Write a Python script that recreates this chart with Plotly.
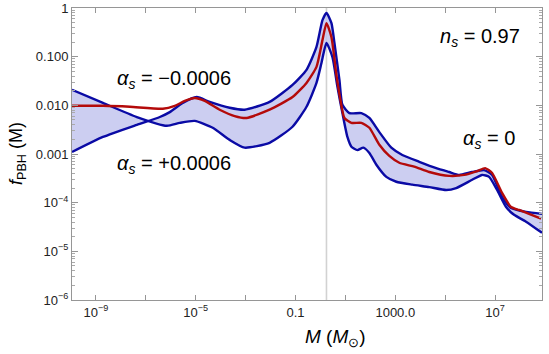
import plotly.graph_objects as go

# ---- data (log10 M [Msun], log10 f_PBH) ----
red_logM = [-9.96, -8.72, -7.64, -6.32, -5.84, -5.44, -5.04, -4.64, -4.04, -3.44, -2.96, -2.04,
            -1.12, -0.56, -0.16, 0.08, 0.24, 0.44, 0.64, 0.80, 0.96, 1.24, 1.64, 1.96, 2.36, 2.76,
            3.16, 3.76, 4.36, 5.16, 5.76, 6.28, 6.60, 6.88, 7.28, 7.64, 7.96, 8.36, 8.84]
red_logf = [-2.01, -2.01, -2.03, -2.07, -2.01, -1.91, -1.85, -1.91, -2.09, -2.22, -2.26, -2.09,
            -1.83, -1.54, -1.21, -0.66, -0.31, -0.60, -1.38, -1.89, -2.26, -2.36, -2.36, -2.46, -2.81, -3.04,
            -3.18, -3.26, -3.37, -3.45, -3.43, -3.35, -3.29, -3.39, -3.80, -4.09, -4.15, -4.23, -4.33]

neg_logM = [-9.96, -8.72, -7.36, -6.44, -6.04, -5.52, -4.96, -4.44, -3.64, -3.04, -2.04, -1.12,
            -0.56, -0.16, 0.08, 0.24, 0.44, 0.56, 0.76, 0.88, 1.16, 1.64, 1.96, 2.36, 2.84, 3.28,
            3.96, 4.64, 5.16, 5.56, 6.08, 6.56, 6.88, 7.28, 7.64, 8.24, 8.88]
neg_logf = [-2.96, -2.65, -2.40, -2.24, -2.14, -1.95, -1.83, -1.93, -2.05, -2.09, -1.93, -1.58,
            -1.27, -0.80, -0.25, -0.10, -0.31, -0.72, -1.48, -1.99, -2.16, -2.16, -2.26, -2.55, -2.87, -3.02,
            -3.16, -3.29, -3.37, -3.43, -3.37, -3.33, -3.43, -3.88, -4.11, -4.19, -4.23]

pos_logM = [-9.96, -8.72, -7.36, -6.16, -5.64, -5.04, -4.32, -3.64, -3.04, -2.04, -1.12, -0.56,
            -0.16, 0.04, 0.24, 0.48, 0.68, 0.88, 1.08, 1.24, 1.48, 1.72, 1.96, 2.24, 2.64, 3.04,
            3.68, 4.36, 5.04, 5.44, 6.08, 6.48, 6.76, 7.08, 7.44, 7.76, 8.24, 8.88]
pos_logf = [-1.68, -1.95, -2.24, -2.42, -2.36, -2.32, -2.46, -2.71, -2.87, -2.77, -2.44, -2.03,
            -1.54, -1.13, -0.72, -1.01, -1.62, -2.16, -2.65, -2.85, -2.92, -2.87, -2.98, -3.22, -3.47, -3.57,
            -3.63, -3.68, -3.74, -3.70, -3.53, -3.43, -3.47, -3.74, -4.09, -4.25, -4.39, -4.62]

vline_logM = 0.24

y_tickvals = [1, 0.1, 0.01, 0.001, 1e-4, 1e-5, 1e-6]
y_ticktext = ["1", "0.100", "0.010", "0.001", "10<sup>−4</sup>", "10<sup>−5</sup>", "10<sup>−6</sup>"]
x_tickvals = [1e-9, 1e-7, 1e-5, 1e-3, 1e-1, 1e1, 1e3, 1e5, 1e7]
x_ticktext = ["10<sup>−9</sup>", "", "10<sup>−5</sup>", "", "0.1", "", "1000.0", "", "10<sup>7</sup>"]

def p10(v):
    return [10 ** a for a in v]

BLUE = "rgb(10,10,165)"
RED = "rgb(180,10,10)"
FILL = "rgba(195,198,238,0.85)"
FONT = "Liberation Sans, Arial, sans-serif"
SMOOTH = 0.55

fig = go.Figure()

# band between the two blue curves
fig.add_trace(go.Scatter(
    x=p10(pos_logM) + p10(neg_logM)[::-1],
    y=p10(pos_logf) + p10(neg_logf)[::-1],
    mode="lines", line=dict(width=0, shape="spline", smoothing=SMOOTH),
    fill="toself", fillcolor=FILL, hoverinfo="skip", showlegend=False))

for xs, ys, col in [(pos_logM, pos_logf, BLUE), (neg_logM, neg_logf, BLUE), (red_logM, red_logf, RED)]:
    fig.add_trace(go.Scatter(x=p10(xs), y=p10(ys), mode="lines",
                             line=dict(color=col, width=2.4, shape="spline", smoothing=SMOOTH),
                             showlegend=False))

fig.add_shape(type="line", xref="x", yref="paper", x0=10 ** vline_logM, x1=10 ** vline_logM,
              y0=0, y1=1, line=dict(color="rgb(210,210,210)", width=1.6), layer="below")

axis_common = dict(showline=True, linecolor="rgb(150,150,150)", linewidth=1, mirror="ticks",
                   ticks="inside", tickcolor="rgb(150,150,150)", showgrid=False, zeroline=False,
                   automargin=False,
                   tickfont=dict(family=FONT, size=13, color="#222"))

fig.update_xaxes(type="log", range=[-9.96, 8.88], tickvals=x_tickvals, ticktext=x_ticktext,
                 ticklen=5, **axis_common)
fig.update_yaxes(type="log", range=[-6, 0], tickvals=y_tickvals, ticktext=y_ticktext,
                 ticklen=6,
                 minor=dict(ticks="inside", ticklen=3, dtick="D1", tickcolor="rgb(170,170,170)",
                            showgrid=False),
                 **axis_common)

annot_font = dict(family=FONT, size=20, color="black")
annots = [
    ("<i>α<sub>s</sub></i> = −0.0006", 0.217, 0.755),
    ("<i>α<sub>s</sub></i> = +0.0006", 0.217, 0.464),
    ("<i>n<sub>s</sub></i> = 0.97", 0.868, 0.900),
    ("<i>α<sub>s</sub></i> = 0", 0.887, 0.550),
]
for t, xx, yy in annots:
    fig.add_annotation(text=t, x=xx, y=yy, xref="paper", yref="paper", showarrow=False,
                       xanchor="center", yanchor="middle", font=annot_font)

fig.add_annotation(text="<i>M</i> (<i>M</i><sub>⊙</sub>)", x=0.56, y=-0.178, xref="paper", yref="paper",
                   showarrow=False, xanchor="center", yanchor="bottom",
                   font=dict(family=FONT, size=19, color="black"))
fig.add_annotation(text="<i>f</i><sub>PBH</sub> (M)", x=-0.117, y=0.50, xref="paper", yref="paper",
                   showarrow=False, xanchor="center", yanchor="middle", textangle=-90,
                   font=dict(family=FONT, size=18, color="black"))

fig.update_layout(width=549, height=354, margin=dict(l=72, r=7, t=8, b=54, autoexpand=False),
                  paper_bgcolor="white", plot_bgcolor="white", showlegend=False,
                  hovermode=False)

fig.write_html("out.html", config={"displayModeBar": False, "staticPlot": True},
               post_script="document.body.style.margin='0';document.body.style.overflow='hidden';")
